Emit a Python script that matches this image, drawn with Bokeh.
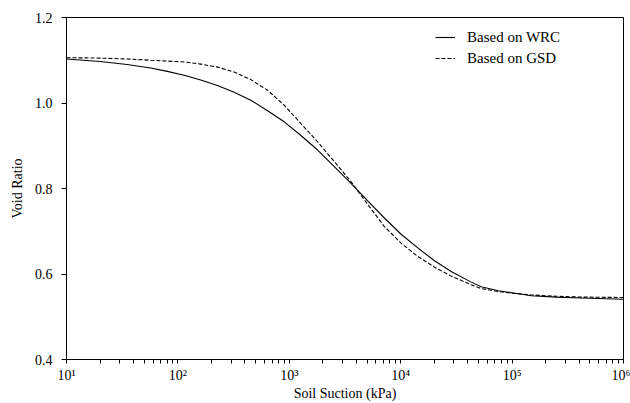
from bokeh.plotting import figure
from bokeh.models import FixedTicker, Legend, LegendItem, Range1d
from bokeh.embed import file_html
from bokeh.resources import INLINE

# Data
wrc_suction = [10, 20, 35, 56.9, 80.4, 113.5, 160.3, 226.4, 319.7, 451.5, 637.6, 900.4,
               1271.6, 1795.8, 2536, 3581, 5057, 7139, 10083, 14240, 20110, 28390,
               42970, 52800, 75200, 100000, 149000, 250000, 419000, 1000000]
wrc_void = [1.103, 1.097, 1.090, 1.082, 1.074, 1.065, 1.054, 1.041, 1.025, 1.0065,
            0.982, 0.956, 0.924, 0.890, 0.851, 0.812, 0.771, 0.731, 0.693, 0.661,
            0.631, 0.606, 0.581, 0.570, 0.561, 0.556, 0.549, 0.546, 0.544, 0.541]

gsd_suction = [10, 20, 35, 56.9, 80.4, 113.5, 160.3, 226.4, 319.7, 451.5, 637.6, 900.4,
               1271.6, 1795.8, 2536, 3581, 5057, 7139, 10083, 14240, 20110, 28390,
               42970, 52800, 75200, 100000, 149000, 250000, 419000, 1000000]
gsd_void = [1.106, 1.105, 1.103, 1.100, 1.098, 1.096, 1.091, 1.084, 1.0725, 1.0547,
            1.0298, 0.9948, 0.952, 0.909, 0.863, 0.816, 0.763, 0.711, 0.672, 0.641,
            0.616, 0.595, 0.575, 0.566, 0.559, 0.555, 0.551, 0.548, 0.546, 0.545]

x_ticks = [10, 100, 1000, 10000, 100000, 1000000]
x_tick_labels = ["10¹", "10²", "10³", "10⁴", "10⁵", "10⁶"]
y_ticks = [0.4, 0.6, 0.8, 1.0, 1.2]
y_tick_labels = ["0.4", "0.6", "0.8", "1.0", "1.2"]

FONT = "Liberation Serif"

p = figure(width=630, height=403, x_axis_type="log", output_backend="svg",
           toolbar_location=None, x_range=Range1d(10, 1e6), y_range=Range1d(0.4, 1.2),
           min_border_left=66, min_border_right=7, min_border_top=17, min_border_bottom=43)

p.grid.visible = False
p.outline_line_color = "black"
p.outline_line_width = 1
p.background_fill_color = "white"
p.border_fill_color = "white"

r1 = p.line(wrc_suction, wrc_void, line_color="black", line_width=1.1)
r2 = p.line(gsd_suction, gsd_void, line_color="black", line_width=1.1, line_dash="4 2")

# X axis
xa = p.xaxis[0]
xa.ticker = FixedTicker(ticks=x_ticks,
                        minor_ticks=[m * d for d in [10, 100, 1000, 10000, 100000] for m in range(2, 10)])
xa.major_label_overrides = {t: l for t, l in zip(x_ticks, x_tick_labels)}
xa.axis_label = "Soil Suction (kPa)"
xa.major_tick_in = 0
xa.major_tick_out = 4
xa.minor_tick_in = 0
xa.minor_tick_out = 4
xa.major_label_standoff = 4
xa.axis_label_standoff = 0

# Y axis
ya = p.yaxis[0]
ya.ticker = FixedTicker(ticks=y_ticks)
ya.major_label_overrides = {t: l for t, l in zip(y_ticks, y_tick_labels)}
ya.axis_label = "Void Ratio"
ya.major_tick_in = 0
ya.major_tick_out = 5
ya.minor_tick_line_color = None
ya.major_label_standoff = 9
ya.axis_label_standoff = 7

for ax in (xa, ya):
    ax.axis_line_color = "black"
    ax.major_tick_line_color = "black"
    ax.major_label_text_font = FONT
    ax.major_label_text_font_size = "14px"
    ax.major_label_text_color = "black"
    ax.axis_label_text_font = FONT
    ax.axis_label_text_font_size = "14px"
    ax.axis_label_text_font_style = "normal"
    ax.axis_label_text_color = "black"
xa.minor_tick_line_color = "black"

legend = Legend(items=[LegendItem(label="Based on WRC", renderers=[r1]),
                       LegendItem(label="Based on GSD", renderers=[r2])],
                location=(369, 291), orientation="vertical")
legend.border_line_color = None
legend.background_fill_alpha = 0
legend.padding = 0
legend.margin = 0
legend.spacing = 1
legend.glyph_width = 20
legend.glyph_height = 20
legend.label_height = 20
legend.label_standoff = 12
legend.label_text_font = FONT
legend.label_text_font_size = "15px"
legend.label_text_color = "black"
p.add_layout(legend, "center")

open("out.html", "w").write(file_html(p, INLINE))
